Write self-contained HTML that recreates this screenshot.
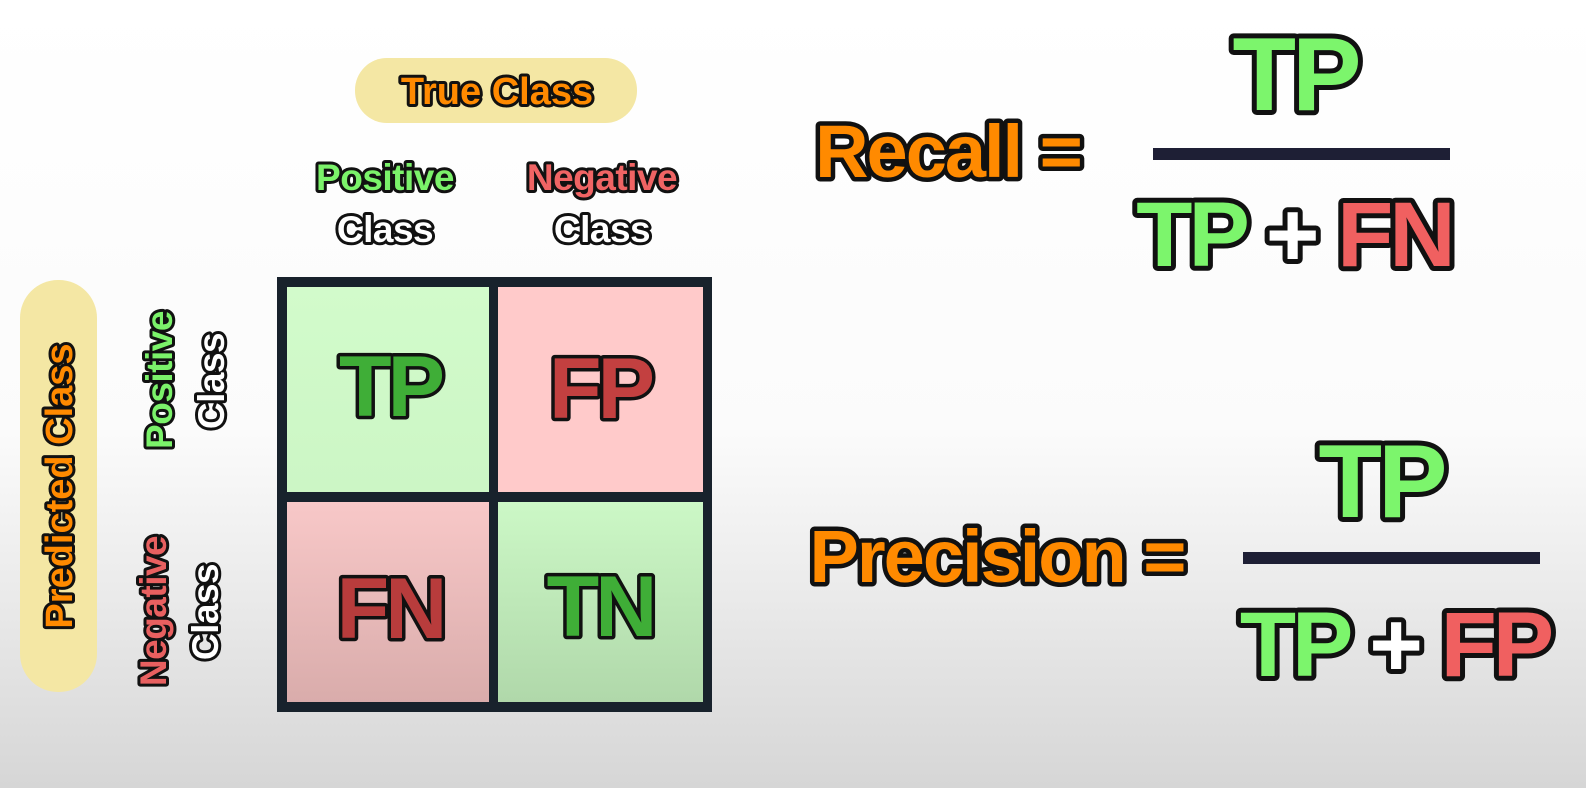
<!DOCTYPE html>
<html><head><meta charset="utf-8"><style>
html,body{margin:0;padding:0;width:1586px;height:788px;overflow:hidden}
svg{display:block}
text{font-family:"Liberation Sans",sans-serif;font-weight:bold;paint-order:stroke;stroke:#111;stroke-linejoin:round;text-anchor:middle}
</style></head><body>
<svg width="1586" height="788" viewBox="0 0 1586 788">
<defs>
<linearGradient id="bg" x1="0" y1="0" x2="0" y2="1">
<stop offset="0" stop-color="#ffffff"/><stop offset="0.55" stop-color="#fbfbfb"/><stop offset="1" stop-color="#d6d6d6"/></linearGradient>
<linearGradient id="g1" x1="0" y1="0" x2="0" y2="1"><stop offset="0" stop-color="#d2fbcb"/><stop offset="1" stop-color="#ccf6c5"/></linearGradient>
<linearGradient id="g2" x1="0" y1="0" x2="0" y2="1"><stop offset="0" stop-color="#ccf8c6"/><stop offset="1" stop-color="#b0d8aa"/></linearGradient>
<linearGradient id="r2" x1="0" y1="0" x2="0" y2="1"><stop offset="0" stop-color="#f8c8c8"/><stop offset="1" stop-color="#d9acab"/></linearGradient>
</defs>
<rect width="1586" height="788" fill="url(#bg)"/>

<rect x="355" y="58" width="282" height="65" rx="32" fill="#f4e7a4"/>
<text x="497" y="104" font-size="38" fill="#ff8a00" stroke-width="6" letter-spacing="0">True Class</text>

<text x="385" y="190" font-size="37" fill="#7bf26a" stroke-width="6" letter-spacing="-0.5">Positive</text>
<text x="385" y="242" font-size="37" fill="#ffffff" stroke-width="6" letter-spacing="-0.5">Class</text>
<text x="602" y="190" font-size="37" fill="#f06464" stroke-width="6" letter-spacing="-0.5">Negative</text>
<text x="602" y="242" font-size="37" fill="#ffffff" stroke-width="6" letter-spacing="-0.5">Class</text>

<rect x="20" y="280" width="77" height="412" rx="38" fill="#f4e7a4"/>
<text transform="translate(72,486) rotate(-90)" font-size="38" fill="#ff8a00" stroke-width="6" letter-spacing="0">Predicted Class</text>
<text transform="translate(172,380) rotate(-90)" font-size="37" fill="#7bf26a" stroke-width="6" letter-spacing="-0.5">Positive</text>
<text transform="translate(224,381) rotate(-90)" font-size="37" fill="#ffffff" stroke-width="6" letter-spacing="-0.5">Class</text>
<text transform="translate(166,611) rotate(-90)" font-size="37" fill="#e86060" stroke-width="6" letter-spacing="-0.5">Negative</text>
<text transform="translate(218,612) rotate(-90)" font-size="37" fill="#ffffff" stroke-width="6" letter-spacing="-0.5">Class</text>

<g>
<rect x="277" y="277" width="435" height="435" fill="#18222c"/>
<rect x="287" y="287" width="202" height="205" fill="url(#g1)"/>
<rect x="498" y="287" width="205" height="205" fill="#ffcaca"/>
<rect x="287" y="502" width="202" height="200" fill="url(#r2)"/>
<rect x="498" y="502" width="205" height="200" fill="url(#g2)"/>
<text x="390" y="416" font-size="86" fill="#3fae37" stroke-width="7" letter-spacing="-4">TP</text>
<text x="600" y="418" font-size="86" fill="#c34040" stroke-width="7" letter-spacing="-4">FP</text>
<text x="390" y="638" font-size="86" fill="#b83c3c" stroke-width="7" letter-spacing="-4">FN</text>
<text x="600" y="636" font-size="86" fill="#3fae37" stroke-width="7" letter-spacing="-4">TN</text>
</g>

<text x="948" y="177" font-size="74" fill="#ff8a00" stroke-width="9" letter-spacing="-2">Recall =</text>
<text x="1295" y="110" font-size="104" fill="#7cf56c" stroke-width="10" letter-spacing="-4">TP</text>
<rect x="1153" y="148" width="297" height="12" fill="#1e1f35"/>
<text x="1294" y="266" font-size="92" stroke-width="10" letter-spacing="-4"><tspan fill="#7cf56c">TP</tspan><tspan fill="#ffffff"> + </tspan><tspan fill="#f06060">FN</tspan></text>

<text x="997" y="582" font-size="74" fill="#ff8a00" stroke-width="9" letter-spacing="-2">Precision =</text>
<text x="1381" y="517" font-size="104" fill="#7cf56c" stroke-width="10" letter-spacing="-4">TP</text>
<rect x="1243" y="552" width="297" height="12" fill="#1e1f35"/>
<text x="1395" y="676" font-size="92" stroke-width="10" letter-spacing="-4"><tspan fill="#7cf56c">TP</tspan><tspan fill="#ffffff"> + </tspan><tspan fill="#f06060">FP</tspan></text>
</svg>
</body></html>
